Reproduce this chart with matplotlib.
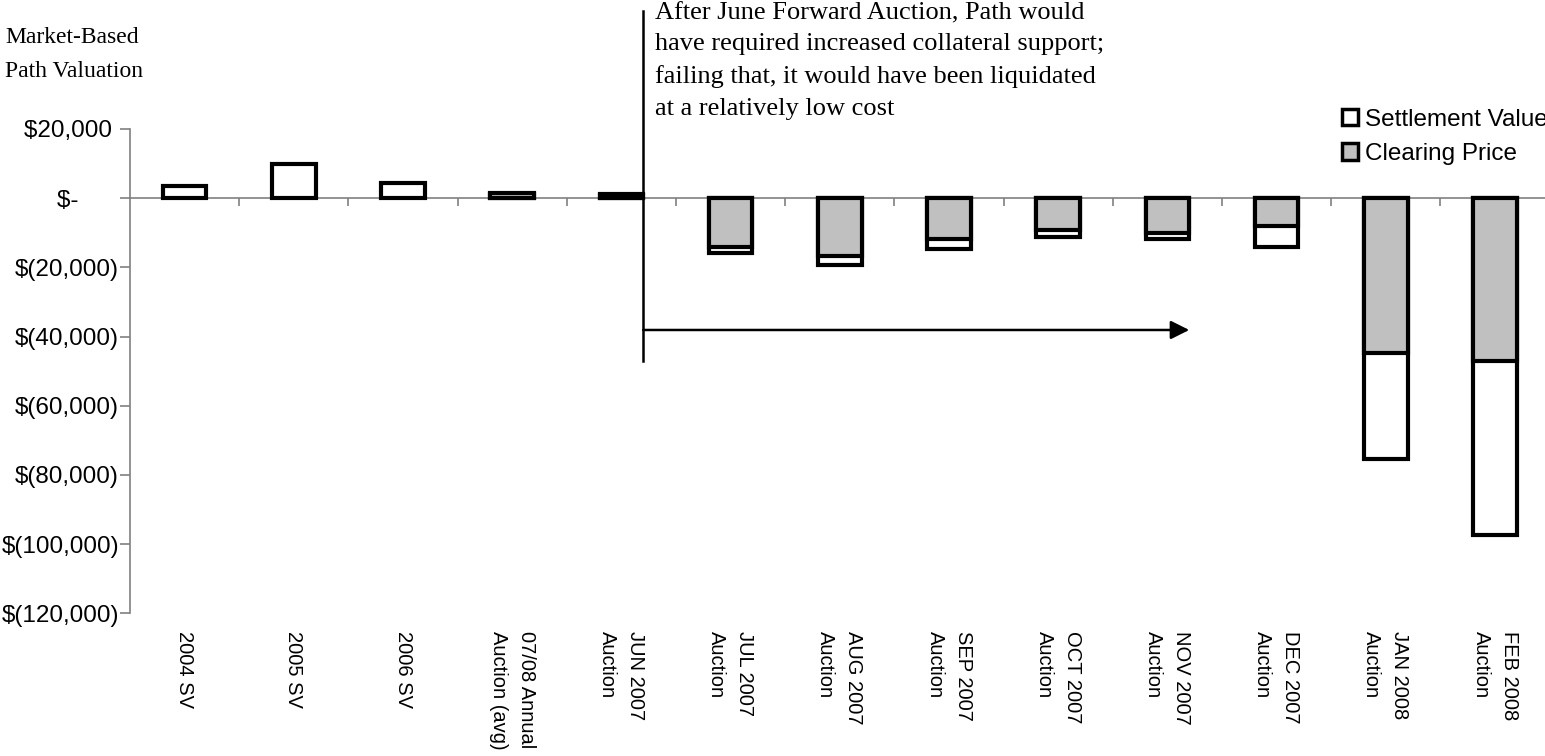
import numpy as np
import matplotlib
matplotlib.use('Agg')
import matplotlib.pyplot as plt
import matplotlib.transforms as mtransforms
from matplotlib.patches import Patch

# Categories along the x axis
categories = ['2004 SV', '2005 SV', '2006 SV', '07/08 Annual\nAuction (avg)',
              'JUN 2007\nAuction', 'JUL 2007\nAuction', 'AUG 2007\nAuction',
              'SEP 2007\nAuction', 'OCT 2007\nAuction', 'NOV 2007\nAuction',
              'DEC 2007\nAuction', 'JAN 2008\nAuction', 'FEB 2008\nAuction']

# Values ($)
settlement_value = [3600, 10000, 4300, 1300, 1000, -15800, -19200, -14600,
                    -11100, -11900, -14100, -75500, -97300]
clearing_price = [np.nan, np.nan, np.nan, 1400, 1100, -14100, -16700, -11900,
                  -9100, -10000, -8100, -44800, -47100]

ytick_vals = [20000, 0, -20000, -40000, -60000, -80000, -100000, -120000]
ytick_labels = ['$20,000 ', '$-      ', '$(20,000)', '$(40,000)', '$(60,000)',
                '$(80,000)', '$(100,000)', '$(120,000)']

note = ('After June Forward Auction, Path would\n'
        'have required increased collateral support;\n'
        'failing that, it would have been liquidated\n'
        'at a relatively low cost')

W, H = 1545, 756
fig = plt.figure(figsize=(W / 100, H / 100), dpi=100)
ax = fig.add_axes([130 / W, 1 - 613.3 / H, 1419.6 / W, (613.3 - 129) / H])

x = np.arange(len(categories))
bar_w = 0.4
sv = np.array(settlement_value, dtype=float)
cp = np.array(clearing_price, dtype=float)
ok = ~np.isnan(cp)

ax.bar(x, sv, width=bar_w, color='white', edgecolor='black', linewidth=3, zorder=3)
ax.bar(x[ok], cp[ok], width=bar_w, color='#c0c0c0', edgecolor='black', linewidth=3, zorder=4)

ax.set_xlim(-0.5, len(categories) - 0.5)
ax.set_ylim(-120000, 20000)

# axis styling (Excel look)
for s in ['top', 'right']:
    ax.spines[s].set_visible(False)
ax.spines['bottom'].set_position(('data', 0))
ax.spines['bottom'].set_color('#808080')
ax.spines['left'].set_color('#808080')
ax.spines['bottom'].set_linewidth(1.2)
ax.spines['left'].set_linewidth(1.2)
ax.set_xticks(np.arange(0.5, len(categories) - 0.5, 1))
ax.set_xticklabels([])
ax.tick_params(axis='x', direction='out', length=6, width=1.2, color='#808080')
ax.set_yticks(ytick_vals, ytick_labels)
ax.tick_params(axis='y', direction='out', length=7, width=1.2, color='#808080',
               labelsize=17.5, pad=1)
for lbl in ax.get_yticklabels():
    lbl.set_fontfamily('Liberation Sans')

# category labels below the plot, rotated
trans = mtransforms.blended_transform_factory(ax.transData, fig.transFigure)
for i, c in enumerate(categories):
    ax.text(i, 1 - 631 / H, c, transform=trans, rotation=-90, ha='center', va='top',
            multialignment='left', fontsize=14.5, family='Liberation Sans',
            linespacing=1.6)

# divider line and arrow
div_x = 4 + bar_w / 2
ax.plot([div_x, div_x], [54000, -47200], color='black', lw=1.8, clip_on=False, zorder=5)
ax.annotate('', xy=(9.2, -38100), xytext=(div_x, -38100),
            arrowprops=dict(arrowstyle='-|>', color='black', lw=1.8, mutation_scale=28,
                            shrinkA=0, shrinkB=0), zorder=5)

fig.text(655 / W, 1 - 2 / H, note, ha='left', va='top', fontsize=19,
         family='Liberation Serif', linespacing=1.55)
fig.text(5 / W, 1 - 27 / H, 'Market-Based\nPath Valuation', ha='left', va='top',
         fontsize=17, family='Liberation Serif', linespacing=1.8)

handles = [Patch(facecolor='white', edgecolor='black', linewidth=2.5),
           Patch(facecolor='#c0c0c0', edgecolor='black', linewidth=2.5)]
fig.legend(handles, ['Settlement Value', 'Clearing Price'], loc='upper left',
           bbox_to_anchor=(1320 / W, 1 - 87 / H), frameon=False,
           handlelength=0.65, handleheight=0.65, handletextpad=0.3, labelspacing=0.5,
           prop={'family': 'Liberation Sans', 'size': 17.5})

fig.savefig('out.png', dpi=100)
